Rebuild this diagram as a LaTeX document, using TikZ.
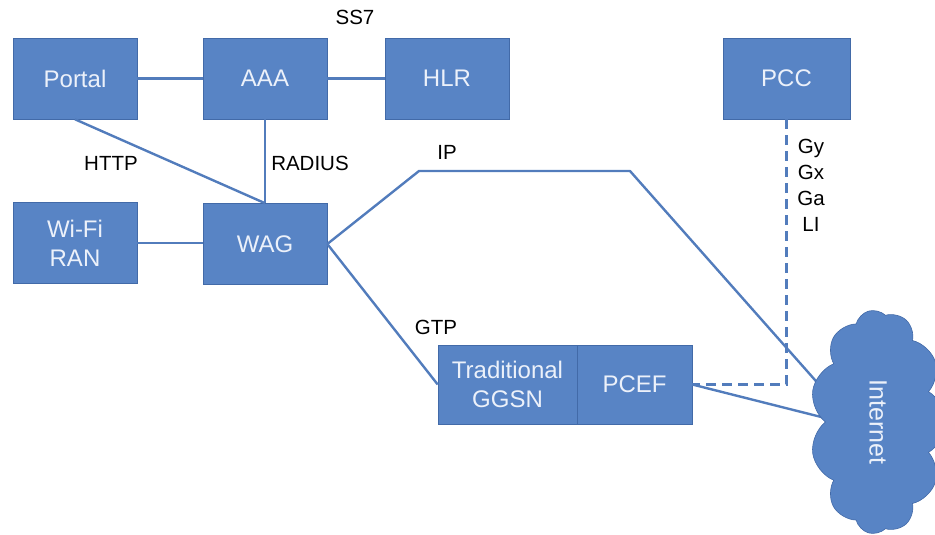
\documentclass[tikz,border=0pt]{standalone}
\usepackage{fontspec}
\setmainfont{Liberation Sans}
\usetikzlibrary{shapes.symbols}
\definecolor{boxblue}{RGB}{88,132,197}
\definecolor{lineblue}{RGB}{82,124,188}
\definecolor{edgeblue}{RGB}{66,106,168}
\definecolor{boxtext}{RGB}{236,241,250}
\begin{document}
\begin{tikzpicture}[x=1pt,y=-1pt,
  box/.style={draw=edgeblue, line width=0.6pt, fill=boxblue, text=boxtext,
    font=\fontsize{24}{29}\selectfont, minimum width=124pt, minimum height=81pt,
    inner sep=0pt, align=center},
  link/.style={draw=lineblue, line width=2.4pt},
  dlink/.style={draw=lineblue, line width=2.4pt, dash pattern=on 10pt off 6pt},
  lbl/.style={font=\fontsize{20.5}{26}\selectfont, text=black, inner sep=0pt, align=center}]
\useasboundingbox (0,0) rectangle (935,535);

% boxes
\node[box] (portal) at (75,78.5) {Portal};
\node[box] (aaa) at (265,78.5) {AAA};
\node[box] (hlr) at (447,78.5) {HLR};
\node[box, minimum width=127pt] (pcc) at (786.5,78.5) {PCC};
\node[box] (wifi) at (75,243) {Wi-Fi\\RAN};
\node[box] (wag) at (265,244) {WAG};
\node[box, minimum width=139pt, minimum height=79pt] (ggsn) at (507.5,384.5) {Traditional\\GGSN};
\node[box, minimum width=115pt, minimum height=79pt] (pcef) at (634.5,384.5) {PCEF};

% helper coordinates
\coordinate (ipA) at (419,171);
\coordinate (ipB) at (630,171);
\coordinate (ipEnd) at (838,406);
\coordinate (pcefEnd) at (845,423);

% connectors
\draw[link] (portal) -- (aaa);
\draw[link] (aaa) -- (hlr);
\draw[link] (portal.south) -- (wag.north);
\draw[link] (aaa) -- (wag);
\draw[link] (wifi) -- (wifi -| wag.west);
\draw[link, line join=round] (wag.east) -- (ipA) -- (ipB) -- (ipEnd);
\draw[link] (wag.east) -- (ggsn.west);
\draw[link] (pcef.east) -- (pcefEnd);
\draw[dlink] (pcc.south) -- (pcc.south |- pcef.east) -- (pcef.east);

% cloud
\node[cloud, cloud puffs=11, cloud puff arc=120, aspect=1.65, rotate=-90,
  minimum width=224pt, minimum height=136pt, inner sep=0pt,
  fill=boxblue, draw=edgeblue, line width=0.6pt, text=boxtext,
  font=\fontsize{25}{29}\selectfont] (inet) at (878,422) {Internet};

% labels
\node[lbl] (ss7) at (355,17) {SS7};
\node[lbl] (http) at (111,163) {HTTP};
\node[lbl] (radius) at (310,163) {RADIUS};
\node[lbl] (ip) at (447,152) {IP};
\node[lbl] (gtp) at (436,327) {GTP};
\node[lbl] (gy) at (811,185) {Gy\\Gx\\Ga\\LI};
\end{tikzpicture}
\end{document}
